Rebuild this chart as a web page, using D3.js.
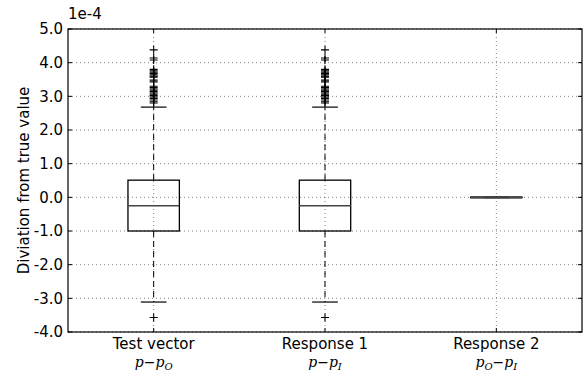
<!DOCTYPE html>
<html><head><meta charset="utf-8">
<script src="https://cdn.jsdelivr.net/npm/d3@7"></script>
<style>body{margin:0;background:#fff}svg{display:block}text{font-family:"DejaVu Sans",sans-serif}</style>
</head><body>
<script>
const categories = ["Test vector", "Response 1", "Response 2"];
const mathBase = [["p", "p", "O"], ["p", "p", "I"], ["p", "p", "I"]];
const mathSubFirst = [null, null, "O"];
const q1 = [-1.0, -1.0, -0.006];
const median = [-0.25, -0.25, 0.0];
const q3 = [0.51, 0.51, 0.006];
const whiskerLow = [-3.11, -3.11, -0.01];
const whiskerHigh = [2.68, 2.68, 0.01];
const outliersHigh = [4.38, 4.14, 4.08, 3.80, 3.76, 3.72, 3.68, 3.64, 3.60, 3.57, 3.48, 3.43, 3.30, 3.26, 3.22, 3.18, 3.14, 3.10, 3.06, 3.02, 2.98, 2.94, 2.89, 2.84, 2.80];
const outliersLow = [-3.57];
const yTicks = [-4, -3, -2, -1, 0, 1, 2, 3, 4, 5];

const W = 587, H = 374;
const m = {left: 68, right: 5, top: 29, bottom: 42};
const svg = d3.select("body").append("svg").attr("width", W).attr("height", H);
const x = d3.scaleLinear().domain([0.5, 3.5]).range([m.left, W - m.right]);
const y = d3.scaleLinear().domain([-4, 5]).range([H - m.bottom, m.top]);
const g = svg.append("g");

// grid
g.selectAll(".gy").data(yTicks).join("line")
  .attr("x1", m.left).attr("x2", W - m.right)
  .attr("y1", d => y(d)).attr("y2", d => y(d))
  .attr("stroke", "#000").attr("stroke-width", 0.8).attr("stroke-dasharray", "1,3").attr("opacity", 0.6);
g.selectAll(".gx").data(categories).join("line")
  .attr("x1", (d, i) => x(i + 1)).attr("x2", (d, i) => x(i + 1))
  .attr("y1", m.top).attr("y2", H - m.bottom)
  .attr("stroke", "#000").attr("stroke-width", 0.8).attr("stroke-dasharray", "1,3").attr("opacity", 0.6);

const bw = x(1.3) - x(1);
const idx = categories.map((d, i) => i);
// whiskers
g.selectAll(".wl").data(idx).join("line")
  .attr("x1", i => x(i + 1)).attr("x2", i => x(i + 1))
  .attr("y1", i => y(q1[i])).attr("y2", i => y(whiskerLow[i]))
  .attr("stroke", "#000").attr("stroke-width", 1).attr("stroke-dasharray", "6,4");
g.selectAll(".wh").data(idx).join("line")
  .attr("x1", i => x(i + 1)).attr("x2", i => x(i + 1))
  .attr("y1", i => y(q3[i])).attr("y2", i => y(whiskerHigh[i]))
  .attr("stroke", "#000").attr("stroke-width", 1).attr("stroke-dasharray", "6,4");
// caps
[whiskerLow, whiskerHigh].forEach(arr => {
  g.selectAll(null).data(idx).join("line")
    .attr("x1", i => x(i + 1) - bw / 4).attr("x2", i => x(i + 1) + bw / 4)
    .attr("y1", i => y(arr[i])).attr("y2", i => y(arr[i]))
    .attr("stroke", "#000").attr("stroke-width", 1.2);
});
// boxes
g.selectAll(".box").data(idx).join("rect")
  .attr("x", i => x(i + 1) - bw / 2).attr("width", bw)
  .attr("y", i => y(q3[i])).attr("height", i => Math.max(0.5, y(q1[i]) - y(q3[i])))
  .attr("fill", "none").attr("stroke", "#000").attr("stroke-width", 1.3);
g.selectAll(".med").data(idx).join("line")
  .attr("x1", i => x(i + 1) - bw / 2).attr("x2", i => x(i + 1) + bw / 2)
  .attr("y1", i => y(median[i])).attr("y2", i => y(median[i]))
  .attr("stroke", "#444").attr("stroke-width", i => i === 2 ? 2.2 : 1.3);
// outliers
const pts = [];
[0, 1].forEach(i => {
  outliersHigh.forEach(v => pts.push([i + 1, v]));
  outliersLow.forEach(v => pts.push([i + 1, v]));
});
const s = 4;
g.selectAll(".ol").data(pts).join("path")
  .attr("d", d => `M${x(d[0]) - s},${y(d[1])}h${2 * s}M${x(d[0])},${y(d[1]) - s}v${2 * s}`)
  .attr("stroke", "#000").attr("stroke-width", 1.1).attr("fill", "none");

// frame
svg.append("rect").attr("x", m.left).attr("y", m.top)
  .attr("width", W - m.right - m.left).attr("height", H - m.bottom - m.top)
  .attr("fill", "none").attr("stroke", "#000").attr("stroke-width", 1.2);

// ticks (inward, all sides)
const tl = 4;
svg.selectAll(".ytl").data(yTicks).join("line")
  .attr("x1", m.left).attr("x2", m.left + tl).attr("y1", d => y(d)).attr("y2", d => y(d))
  .attr("stroke", "#000");
svg.selectAll(".ytr").data(yTicks).join("line")
  .attr("x1", W - m.right).attr("x2", W - m.right - tl).attr("y1", d => y(d)).attr("y2", d => y(d))
  .attr("stroke", "#000");
svg.selectAll(".xtb").data(idx).join("line")
  .attr("x1", i => x(i + 1)).attr("x2", i => x(i + 1)).attr("y1", H - m.bottom).attr("y2", H - m.bottom - tl)
  .attr("stroke", "#000");
svg.selectAll(".xtt").data(idx).join("line")
  .attr("x1", i => x(i + 1)).attr("x2", i => x(i + 1)).attr("y1", m.top).attr("y2", m.top + tl)
  .attr("stroke", "#000");

svg.selectAll(".ylab").data(yTicks).join("text")
  .attr("x", m.left - 5).attr("y", d => y(d)).attr("dy", "0.36em")
  .attr("text-anchor", "end").attr("font-size", 15).text(d => d.toFixed(1));
svg.append("text").attr("x", m.left).attr("y", 19).attr("font-size", 15).text("1e-4");

svg.append("text").attr("transform", `translate(29,${(m.top + H - m.bottom) / 2}) rotate(-90)`)
  .attr("text-anchor", "middle").attr("font-size", 15).text("Diviation from true value");

svg.selectAll(".xlab").data(categories).join("text")
  .attr("x", (d, i) => x(i + 1)).attr("y", H - m.bottom + 17)
  .attr("text-anchor", "middle").attr("font-size", 15).text(d => d);

const mt = svg.selectAll(".math").data(idx).join("text")
  .attr("x", i => x(i + 1)).attr("y", H - m.bottom + 35)
  .attr("text-anchor", "middle").attr("font-size", 14)
  .style("font-family", "'DejaVu Serif', serif").style("font-style", "italic");
mt.each(function(i) {
  const t = d3.select(this);
  t.append("tspan").text(mathBase[i][0]);
  if (mathSubFirst[i]) t.append("tspan").attr("font-size", 10).attr("dy", 3).text(mathSubFirst[i]);
  t.append("tspan").style("font-style", "normal").attr("dy", mathSubFirst[i] ? -3 : 0).text("\u2212");
  t.append("tspan").text(mathBase[i][1]);
  t.append("tspan").attr("font-size", 10).attr("dy", 3).text(mathBase[i][2]);
});
</script>
</body></html>
